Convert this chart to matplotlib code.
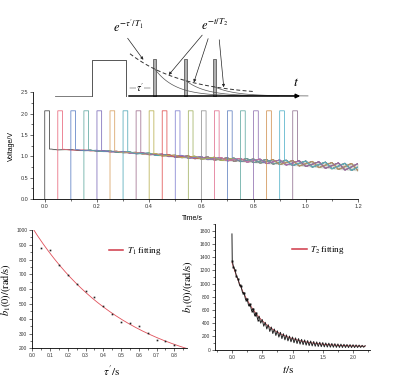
import numpy as np
import matplotlib
matplotlib.use("Agg")
import matplotlib.pyplot as plt
from matplotlib.patches import Rectangle
from matplotlib.ticker import MultipleLocator

plt.rcParams["mathtext.fontset"] = "stix"
plt.rcParams["font.family"] = "Liberation Sans"

# ---- middle panel: voltage traces (one per pulse delay) ----
pulse_starts = [0.00, 0.05, 0.10, 0.15, 0.20, 0.25, 0.30, 0.35, 0.40, 0.45,
                0.50, 0.55, 0.60, 0.65, 0.70, 0.75, 0.80, 0.85, 0.90, 0.95]
pulse_colors = ["#404040", "#e8657a", "#5a7fc4", "#5fa8a0", "#7a6ab8",
                "#d8a060", "#50a8b8", "#a07090", "#b8b050", "#e05050",
                "#8080d0", "#a0b060", "#909090", "#e07090", "#6080c0",
                "#60a8a0", "#9070b0", "#d09050", "#50b0c8", "#907090"]
pulse_high = 2.07
pulse_width = 0.018
# signal band after the pulses (upper / lower edge of the noisy traces)
band_t = np.arange(0.025, 1.2001, 0.025)
band_upper = [1.172, 1.169, 1.168, 1.165, 1.161, 1.156, 1.152, 1.147, 1.141, 1.133,
              1.127, 1.119, 1.110, 1.100, 1.091, 1.081, 1.070, 1.058, 1.047, 1.034,
              1.025, 1.015, 1.006, 0.996, 0.990, 0.983, 0.977, 0.969, 0.963, 0.955,
              0.950, 0.943, 0.937, 0.930, 0.925, 0.918, 0.912, 0.905, 0.900, 0.893,
              0.884, 0.875, 0.867, 0.858, 0.849, 0.840, 0.837, 0.833]
band_lower = [1.158, 1.153, 1.150, 1.145, 1.139, 1.132, 1.126, 1.119, 1.111, 1.101,
              1.093, 1.083, 1.072, 1.060, 1.049, 1.037, 1.022, 1.008, 0.993, 0.978,
              0.967, 0.955, 0.944, 0.932, 0.922, 0.913, 0.903, 0.893, 0.885, 0.875,
              0.864, 0.853, 0.841, 0.830, 0.819, 0.808, 0.796, 0.785, 0.774, 0.763,
              0.748, 0.735, 0.720, 0.708, 0.693, 0.680, 0.670, 0.663]

# ---- bottom left: T1 measurement ----
tau = [0.05, 0.10, 0.15, 0.20, 0.25, 0.30, 0.35, 0.40,
       0.45, 0.50, 0.55, 0.60, 0.65, 0.70, 0.75, 0.80]
b1_tau = [880, 865, 766, 694, 637, 588, 549, 484,
          432, 378, 370, 349, 302, 257, 252, 225]

# ---- bottom right: T2 free decay ----
spike_t = [0.0, 0.005]
spike_v = [1750, 1345]
peak_t = np.arange(0.05, 2.201, 0.05)
peak_v = [1207, 1072, 959, 859, 771, 689, 622, 558, 507, 457, 414, 377, 343, 313,
          286, 263, 242, 224, 206, 192, 179, 168, 156, 148, 138, 131, 124, 118,
          113, 108, 102, 99, 94, 91, 87, 84, 82, 79, 77, 75, 73, 70, 66, 61]
trough_t = np.arange(0.025, 2.176, 0.05)
trough_v = [1251, 1108, 978, 862, 758, 669, 589, 519, 456, 402, 355, 313, 275, 244,
            215, 190, 168, 149, 133, 119, 105, 93, 84, 76, 69, 62, 57, 52, 49, 46,
            43, 40, 38, 37, 35, 34, 33, 33, 32, 32, 32, 33, 34, 37]
t2_offset = 45

fig = plt.figure(figsize=(3.95, 3.85), dpi=100)

# ================= schematic (pixel coordinates) =================
axs = fig.add_axes([0, 1 - 100 / 385, 1, 100 / 385])
axs.set_xlim(0, 395)
axs.set_ylim(100, 0)
axs.axis("off")
axs.patch.set_alpha(0)

base_y = 96
axs.plot([55, 92], [base_y, base_y], color="#666666", lw=0.6)
axs.plot([92, 92, 126, 126], [base_y, 60, 60, base_y], color="#555555", lw=0.7)
axs.annotate("", xy=(303, base_y), xytext=(126, base_y),
             arrowprops=dict(arrowstyle="-|>", lw=1.1, color="k", mutation_scale=6))
small_pulses = [153, 184, 213]
for xp in small_pulses:
    axs.add_patch(Rectangle((xp, 59), 3, base_y - 59, facecolor="#b0b0b0",
                            edgecolor="#444444", lw=0.5))
T1_px, T2_px, h0, x0 = 55.0, 20.0, 40.0, 133.0
xd = np.linspace(130, 255, 100)
axs.plot(xd, base_y - h0 * np.exp(-(xd - x0) / T1_px), color="#333333", lw=0.7,
         ls=(0, (4, 2.5)))
for xp in small_pulses:
    hp = h0 * np.exp(-(xp + 2 - x0) / T1_px)
    xs = np.linspace(xp + 2, xp + 95, 80)
    axs.plot(xs, base_y - hp * np.exp(-(xs - xp - 2) / T2_px), color="#555555", lw=0.5)

axs.annotate("", xy=(153, 88), xytext=(127, 88),
             arrowprops=dict(arrowstyle="-", lw=0.4, color="#555555"))
axs.text(140, 87.5, r"$\tau'$", ha="center", va="center", fontsize=7,
         bbox=dict(facecolor="white", edgecolor="none", pad=0.3))
axs.text(296, 89, r"$t$", ha="center", va="bottom", fontsize=10)
axs.text(128, 27, r"$e^{-\tau'/T_1}$", ha="center", va="center", fontsize=9)
axs.text(215, 25, r"$e^{-t/T_2}$", ha="center", va="center", fontsize=9)
arrow_kw = dict(arrowstyle="-|>", lw=0.5, color="#222222", mutation_scale=4)
axs.annotate("", xy=(145, 62), xytext=(126, 36), arrowprops=arrow_kw)
axs.annotate("", xy=(167, 77), xytext=(204, 33), arrowprops=arrow_kw)
axs.annotate("", xy=(193, 85), xytext=(209, 36), arrowprops=arrow_kw)
axs.annotate("", xy=(224, 90), xytext=(219, 37), arrowprops=arrow_kw)

# ================= middle: voltage traces =================
axm = fig.add_axes([33 / 395, 1 - 199 / 385, 325 / 395, 106.5 / 385])
axm.fill_between(band_t, band_lower, band_upper, color="#8a9a88", alpha=0.35, lw=0)
for k, (t0, c) in enumerate(zip(pulse_starts, pulse_colors)):
    tt, vv = [], []
    for i, tb in enumerate(band_t):
        if tb > t0 + pulse_width:
            state = (i + k) % 3
            if state == 0:
                v = band_upper[i]
            elif state == 1:
                v = band_lower[i]
            else:
                v = 0.5 * (band_upper[i] + band_lower[i])
            tt.append(tb)
            vv.append(v)
    xs = [t0, t0, t0 + pulse_width, t0 + pulse_width] + tt
    ys = [0, pulse_high, pulse_high, vv[0]] + vv
    axm.plot(xs, ys, color=c, lw=0.55)
axm.set_xlim(-0.045, 1.2)
axm.set_ylim(0, 2.5)
axm.xaxis.set_major_locator(MultipleLocator(0.2))
axm.xaxis.set_minor_locator(MultipleLocator(0.1))
axm.yaxis.set_major_locator(MultipleLocator(0.5))
axm.yaxis.set_minor_locator(MultipleLocator(0.25))
axm.xaxis.set_major_formatter(plt.FuncFormatter(lambda v, p: f"{v:.1f}"))
axm.yaxis.set_major_formatter(plt.FuncFormatter(lambda v, p: f"{v:.1f}"))
axm.set_xlabel("Time/s", fontsize=5)
axm.set_ylabel("Voltage/V", fontsize=5)
axm.xaxis.set_label_coords(0.49, -0.15)
axm.yaxis.set_label_coords(-0.055, 0.5)

# ================= bottom left: T1 =================
axl = fig.add_axes([32.3 / 395, 1 - 348.3 / 385, 154.4 / 395, 118.3 / 385])
tau_a = np.array(tau)
slope, icpt = np.polyfit(tau_a, np.log(b1_tau), 1)
tf = np.linspace(0, 0.87, 200)
axl.plot(tf, np.exp(icpt + slope * tf), color="#e0505a", lw=0.6,
         label=r"$T_1$ fitting")
axl.plot(tau_a, b1_tau, "s", color="#222222", ms=1.2, mew=0)
axl.set_xlim(0, 0.87)
axl.set_ylim(200, 1000)
axl.xaxis.set_major_locator(MultipleLocator(0.1))
axl.xaxis.set_minor_locator(MultipleLocator(0.05))
axl.yaxis.set_major_locator(MultipleLocator(100))
axl.yaxis.set_minor_locator(MultipleLocator(50))
axl.xaxis.set_major_formatter(plt.FuncFormatter(lambda v, p: f"{v:.1f}"))
axl.set_xlabel(r"$\tau'/\mathrm{s}$", fontsize=8)
axl.set_ylabel(r"$b_1(0)/(\mathrm{rad/s})$", fontsize=7.5)
axl.xaxis.set_label_coords(0.516, -0.13)
axl.yaxis.set_label_coords(-0.125, 0.5)

# ================= bottom right: T2 =================
axr = fig.add_axes([215 / 395, 1 - 349.7 / 385, 155 / 395, 125.7 / 385])
pts = sorted(list(zip(peak_t, peak_v)) + list(zip(trough_t, trough_v)))
t2_t = np.array(spike_t + [p[0] for p in pts])
t2_v = np.array(spike_v + [p[1] for p in pts])
ft, fv = t2_t[1:], t2_v[1:] - t2_offset
keep = fv > 5
s2, i2 = np.polyfit(ft[keep], np.log(fv[keep]), 1, w=fv[keep])
tf2 = np.linspace(0, 2.2, 300)
axr.plot(tf2, t2_offset + np.exp(i2 + s2 * tf2), color="#e0505a", lw=0.6,
         label=r"$T_2$ fitting")
axr.plot(t2_t, t2_v, color="#222222", lw=0.7)
early = t2_t < 0.45
axr.plot(t2_t[early][1:], t2_v[early][1:], "s", color="#111111", ms=1.4, mew=0)
axr.set_xlim(-0.28, 2.28)
axr.set_ylim(0, 1900)
axr.xaxis.set_major_locator(MultipleLocator(0.5))
axr.xaxis.set_minor_locator(MultipleLocator(0.25))
axr.yaxis.set_major_locator(MultipleLocator(200))
axr.yaxis.set_minor_locator(MultipleLocator(100))
axr.xaxis.set_major_formatter(plt.FuncFormatter(lambda v, p: f"{v:.1f}"))
axr.set_xlabel(r"$t/\mathrm{s}$", fontsize=8)
axr.set_ylabel(r"$b_1(0)/(\mathrm{rad/s})$", fontsize=7.5)
axr.xaxis.set_label_coords(0.47, -0.114)
axr.yaxis.set_label_coords(-0.13, 0.5)

for ax, lsize in [(axm, 4), (axl, 3.5), (axr, 3.5)]:
    ax.spines["top"].set_visible(False)
    ax.spines["right"].set_visible(False)
    for s in ("left", "bottom"):
        ax.spines[s].set_linewidth(0.6)
    ax.tick_params(which="major", direction="out", length=2, width=0.5,
                   labelsize=lsize, pad=1.5, colors="#333333")
    ax.tick_params(which="minor", direction="out", length=1.2, width=0.4)
    ax.patch.set_alpha(0)

for ax, top in [(axl, 0.94), (axr, 0.905)]:
    leg = ax.legend(loc="upper right", bbox_to_anchor=(0.89, top), frameon=False,
                    handlelength=1.6, handletextpad=0.4,
                    prop={"family": "Liberation Serif", "size": 6.5})
    for h in leg.get_lines():
        h.set_linewidth(1.1)
        h.set_color("#d03848")

fig.savefig("out.png", dpi=100)
